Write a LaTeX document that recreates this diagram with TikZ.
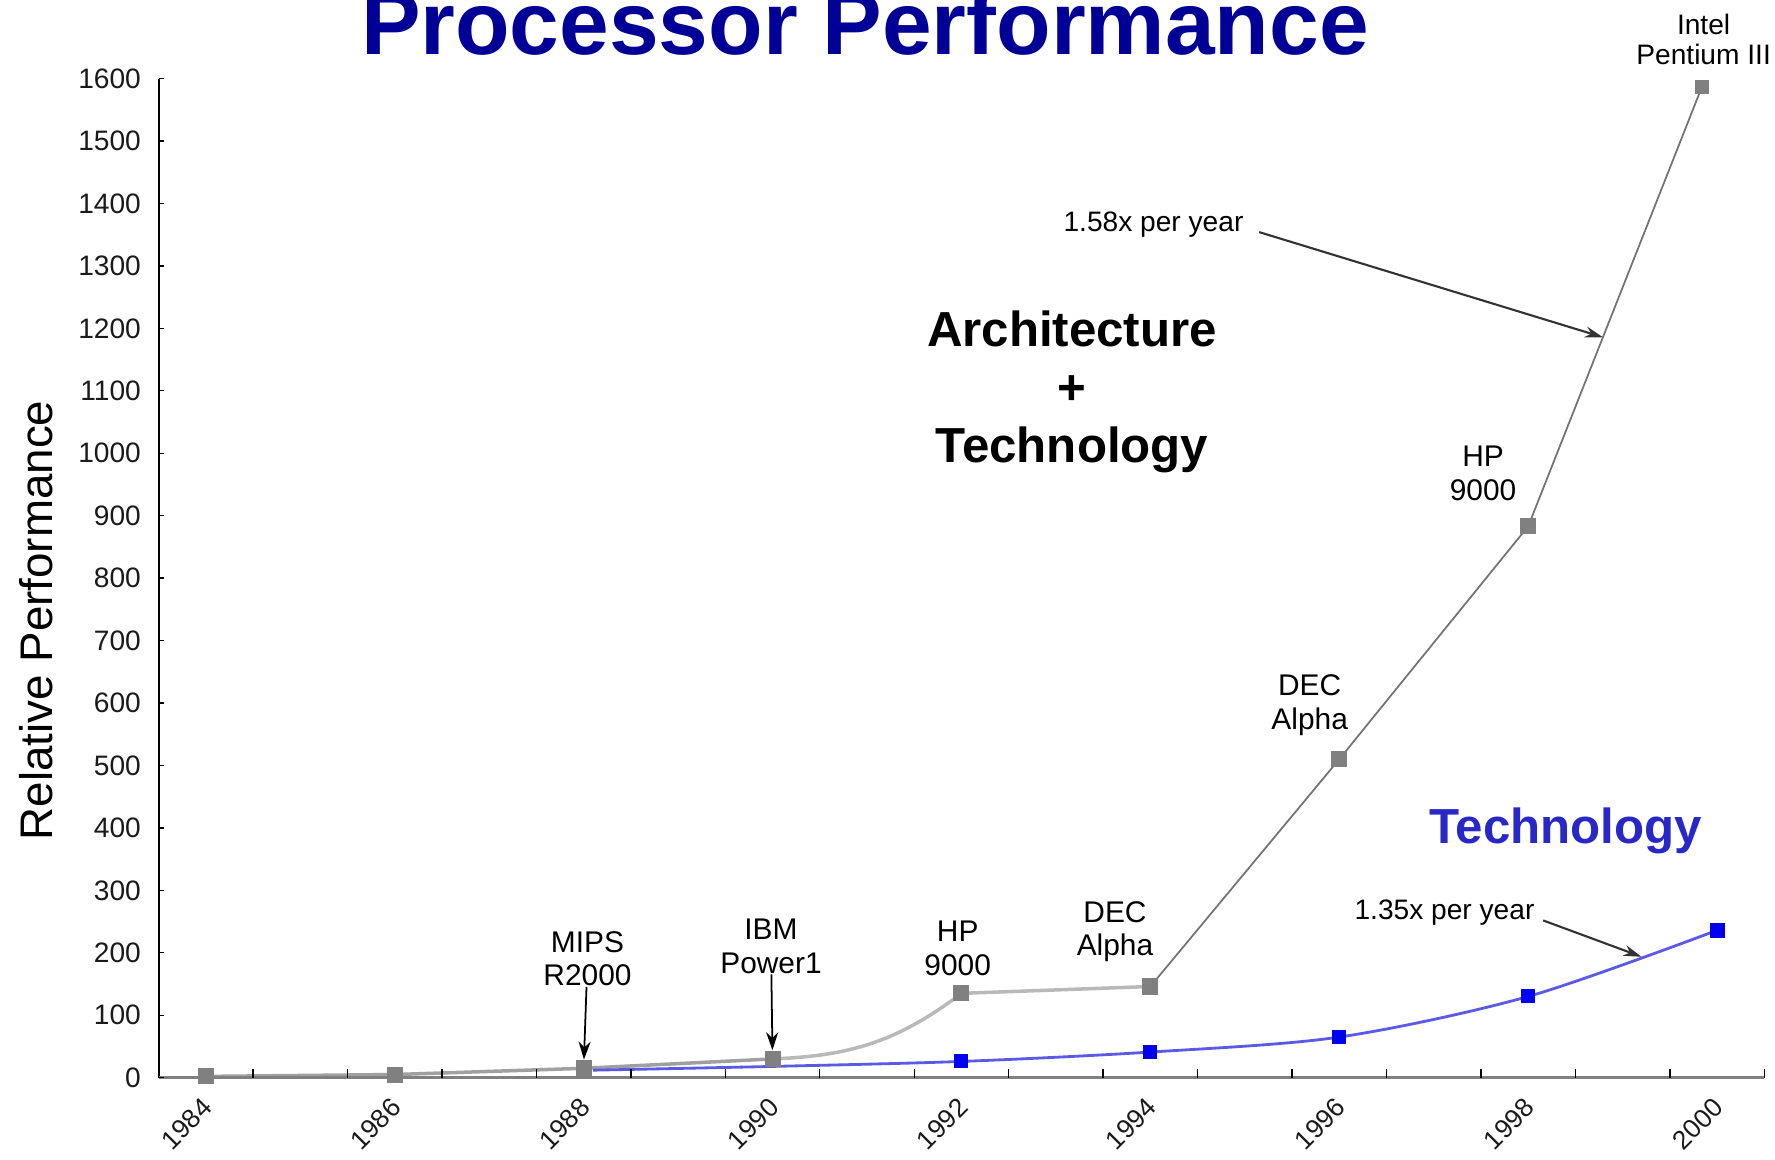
\documentclass[tikz,border=0pt]{standalone}
\usepackage{fontspec}
\setmainfont{Liberation Sans}
\usepackage{xcolor}
\usepackage{tikz}
\usetikzlibrary{arrows.meta, positioning, calc, backgrounds}
\definecolor{cTitle}{HTML}{000096}
\definecolor{cTech}{HTML}{2828C8}
\definecolor{cArch}{HTML}{808080}
\definecolor{cBlue}{HTML}{0000F0}
\definecolor{cTrend}{HTML}{5A5AE6}
\definecolor{cInk}{HTML}{1A1A1A}
\tikzset{
  archpt/.style={rectangle, fill=cArch, inner sep=0pt, minimum size=1.6mm},
  techpt/.style={rectangle, fill=cBlue, inner sep=0pt, minimum size=1.4mm},
  cpu/.style={align=center, inner sep=0pt, font=\fontsize{8.5}{9.6}\selectfont},
  ylab/.style={anchor=east, inner sep=0pt, font=\fontsize{8}{9}\selectfont, text=cInk},
  xlab/.style={anchor=east, inner sep=0pt, rotate=45, font=\fontsize{7.5}{8}\selectfont, text=cInk},
  ptr/.style={-{Stealth[length=1.8mm, width=1.2mm]}, draw=black, line width=0.5pt},
  rate/.style={-{Stealth[length=1.8mm, width=1.1mm]}, draw=black!80, line width=0.6pt},
}

\begin{document}
\begin{tikzpicture}[x=0.01cm, y=0.01cm]
\useasboundingbox (0,0) rectangle (1775,1159);
% titles
\node[font=\fontsize{25.4}{30}\selectfont\bfseries, text=cTitle, anchor=base] (title) at (865,1104.7) {Processor Performance};
\node[rotate=90, inner sep=0pt, font=\fontsize{13}{15}\selectfont] (ytitle) at (36,538.7) {Relative Performance};

% chart: one unit in x per year, one unit in y per performance point
\begin{scope}[shift={(2.057cm,0.813cm)}, x=0.944cm, y=0.00624cm]
\draw[line width=0.6pt] (-0.5,0) -- (-0.5,1600);
\draw[line width=1pt, draw=black!50] (-0.5,0) -- (16.5,0);
\foreach \v in {0,100,...,1600} {
  \draw[line width=0.4pt] (-0.5,\v) -- ++(0.5mm,0);
  \node[ylab] at ($(-0.5,\v)+(-1.7mm,0)$) {\v};
}
\foreach \k in {0.5,1.5,...,16.5} \draw[line width=0.4pt] (\k,0) -- ++(0,0.9mm);
\foreach \yr [count=\i from 0] in {1984,1986,...,2000}
  \node[xlab] at ($(2*\i,0)+(0.2mm,-2.5mm)$) {\yr};

% architecture + technology
\node[archpt] (g84) at (0,2) {};
\node[archpt] (g86) at (2,5) {};
\node[archpt] (g88) at (4,15) {};
\node[archpt] (g90) at (6,30) {};
\node[archpt] (g92) at (8,135) {};
\node[archpt] (g94) at (10,146) {};
\node[archpt] (g96) at (12,510) {};
\node[archpt] (g98) at (14,883) {};
\node[archpt, minimum size=1.4mm] (g00) at (15.84,1587) {};
% technology only
\coordinate (b88) at (4.1,12);
\coordinate (b90) at (6,18);
\node[techpt] (b92) at (8,26) {};
\node[techpt] (b94) at (10,41) {};
\node[techpt] (b96) at (12,65) {};
\node[techpt] (b98) at (14,130) {};
\node[techpt, minimum size=1.5mm] (b00) at (16,236) {};

\begin{scope}[on background layer]
\draw[line width=1pt, draw=cArch!75] (g84.center) -- (g86.center) -- (g88.center) -- (g90.center);
\draw[line width=1pt, draw=cArch!55] (g90.center) .. controls (6.8,35) and (7.3,55) .. (g92.center) -- (g94.center);
\draw[line width=0.5pt, draw=black!55] (g94.center) -- (g96.center) -- (g98.center) -- (g00.center);
\draw[line width=0.8pt, draw=cTrend] plot[smooth, tension=0.5] coordinates {(b88) (b90) (b92.center) (b94.center) (b96.center) (b98.center) (b00.center)};
\end{scope}
\end{scope}

% processor labels
\node[cpu] (lmips) at (587.5,200.2) {MIPS\\R2000};
\node[cpu] (libm) at (771,212.6) {IBM\\Power1};
\node[cpu] (lhp92) at (957.7,210.4) {HP\\9000};
\node[cpu] (ldec94) at (1115,227.4) {DEC\\Alpha};
\node[cpu] (ldec96) at (1309.7,453.8) {DEC\\Alpha};
\node[cpu] (lhp98) at (1483,685.8) {HP\\9000};
\node[cpu, font=\fontsize{8}{8.4}\selectfont] (lintel) at (1703.6,1119.4) {Intel\\Pentium III};
\draw[ptr] (lmips) -- (g88);
\draw[ptr] (libm) -- (g90);

% growth rates
\node[inner sep=0pt, font=\fontsize{8}{9}\selectfont] (r58) at (1153.5,934.9) {1.58x per year};
\node[inner sep=0pt, font=\fontsize{8}{9}\selectfont] (r35) at (1444.5,246.6) {1.35x per year};
\coordinate (hit58) at ($(g98.center)!0.43!(g00.center)$);
\coordinate (hit35) at ($(b98.center)!0.6!(b00.center)$);
\draw[rate] ([xshift=1.5mm, yshift=-0.8mm]r58.east) -- (hit58);
\draw[rate] ([xshift=0.8mm, yshift=-0.8mm]r35.east) -- (hit35);

% series captions
\node[align=center, inner sep=0pt, font=\fontsize{14}{16.5}\selectfont\bfseries] (archtext) at (1072,767.3) {Architecture\\+\\Technology};
\node[inner sep=0pt, text=cTech, font=\fontsize{14}{16}\selectfont\bfseries] (techtext) at (1565.6,328) {Technology};
\end{tikzpicture}
\end{document}
